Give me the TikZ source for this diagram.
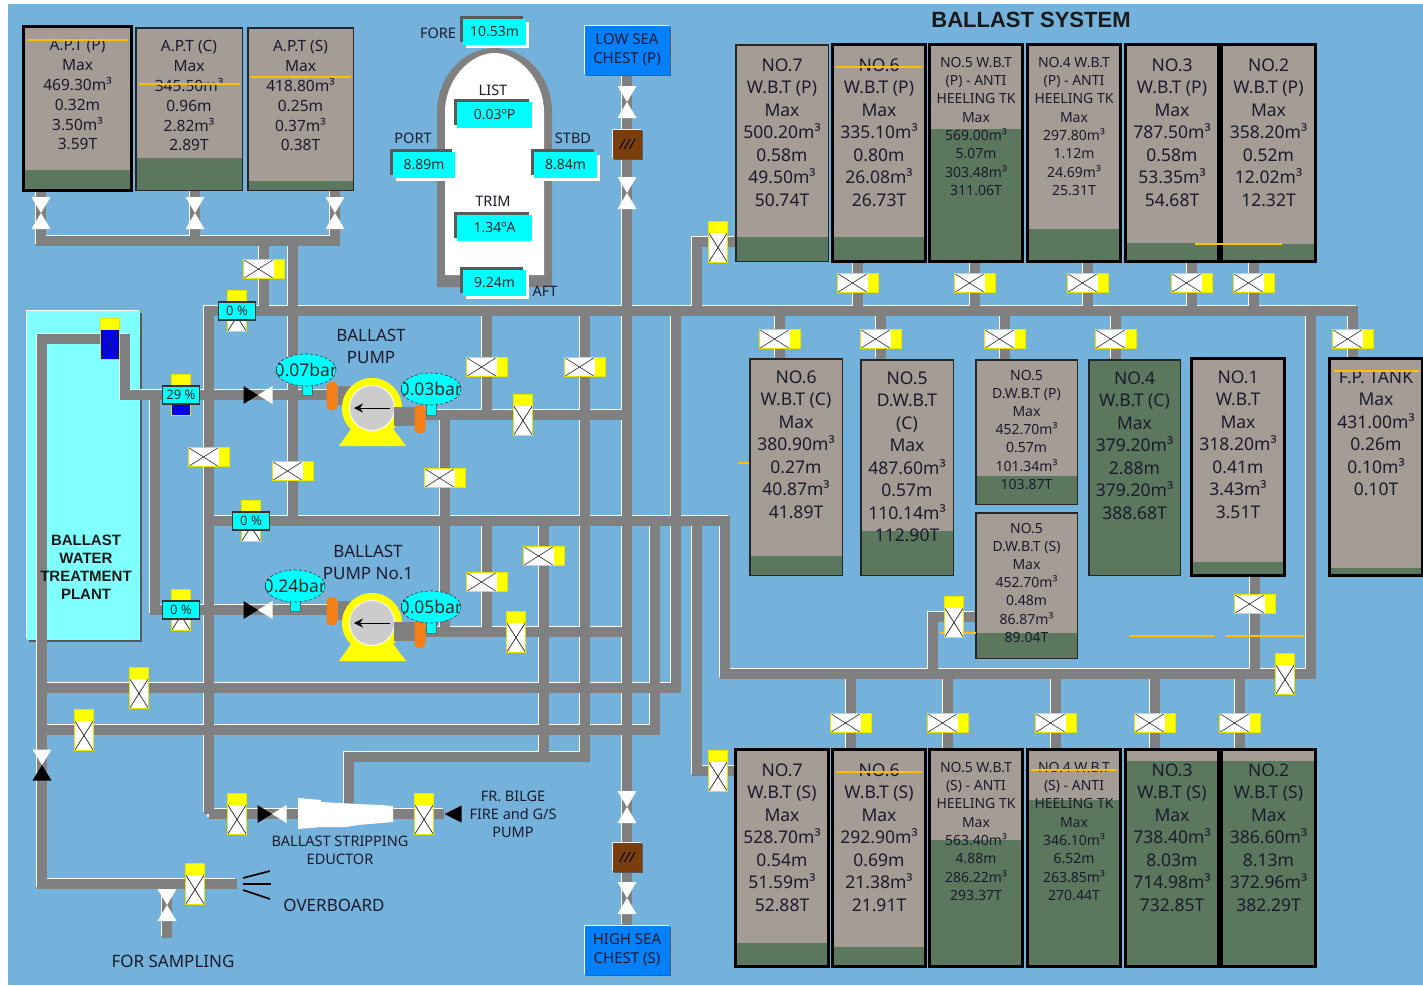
\documentclass[tikz,border=0pt]{standalone}
\usepackage{fontspec}
\setmainfont{Noto Sans}
\newfontfamily\headfont{Liberation Sans}
\usetikzlibrary{arrows.meta, shapes.geometric, shadows}
\pgfdeclarelayer{pipelayer}
\pgfsetlayers{pipelayer,main}

\definecolor{seablue}{HTML}{75B2DB}
\definecolor{pipegray}{HTML}{808080}
\definecolor{tankgray}{HTML}{A59C96}
\definecolor{tankgreen}{HTML}{5B775E}
\definecolor{levelline}{HTML}{FFC000}
\definecolor{plantcyan}{HTML}{80FFFF}
\definecolor{readout}{HTML}{00FFFF}
\definecolor{valveyellow}{HTML}{FFFF00}
\definecolor{valveblue}{HTML}{0000F0}
\definecolor{chestblue}{HTML}{0480FA}
\definecolor{strainerbrown}{HTML}{7A3E0C}
\definecolor{flangeorange}{HTML}{F57F17}
\definecolor{inktext}{HTML}{1B1B2E}

\newcommand{\ppb}{path picture bounding box}

\tikzset{
    tankbody/.style = {rectangle, inner sep=0pt, fill=tankgray},
    tankthin/.style = {draw=black!85, line width=1.4pt},
    tankthick/.style = {draw=black, line width=3pt},
    tanktext/.style = {anchor=north, inner sep=0pt, align=center, text=inktext},
    aptfont/.style = {font=\fontsize{15.5}{19.8}\selectfont, yshift=-10pt},
    bigfont/.style = {font=\fontsize{17.5}{22.5}\selectfont, yshift=-10.7pt},
    midfont/.style = {font=\fontsize{17.5}{22.5}\selectfont, yshift=-8.7pt},
    smallfont/.style = {font=\fontsize{14}{18.3}\selectfont, yshift=-9.5pt},
    dwfont/.style = {font=\fontsize{14}{18.2}\selectfont, yshift=-7.3pt},
    levelmark/.style = {draw=levelline, line width=1.8pt},
    label/.style = {inner sep=0pt, align=center, text=inktext, font=\fontsize{14.5}{18}\selectfont},
    biglabel/.style = {label, font=\fontsize{17}{22}\selectfont},
    hvalve/.style = {rectangle, inner sep=0pt, minimum width=41pt, minimum height=19pt, draw=valveyellow!90!black, fill=white, line width=0.7pt, path picture={
        \fill [valveyellow] ([xshift=-11pt]\ppb.north east) rectangle (\ppb.south east);
        \draw [black!75] (\ppb.north west) -- ([xshift=-11pt]\ppb.south east);
        \draw [black!75] ([xshift=-11pt]\ppb.north east) -- (\ppb.south west);}},
    vvalve/.style = {rectangle, inner sep=0pt, minimum width=19pt, minimum height=41pt, draw=valveyellow!90!black, fill=white, line width=0.7pt, path picture={
        \fill [valveyellow] (\ppb.north west) rectangle ([yshift=-11pt]\ppb.north east);
        \draw [black!85] ([yshift=-11pt]\ppb.north west) -- (\ppb.south east);
        \draw [black!85] ([yshift=-11pt]\ppb.north east) -- (\ppb.south west);}},
    percentbox/.style = {rectangle, inner sep=0pt, minimum width=37pt, minimum height=18pt, fill=readout, draw=black!80, line width=1.2pt, text=black!85, font=\fontsize{13}{15}\selectfont},
    bowv/.style = {rectangle, inner sep=0pt, minimum width=19pt, minimum height=32pt, path picture={
        \fill [white] (\ppb.north west) -- (\ppb.north east) -- (\ppb.south west) -- (\ppb.south east) -- cycle;}},
    bowvblack/.style = {rectangle, inner sep=0pt, minimum width=19pt, minimum height=31pt, path picture={
        \fill [white] (\ppb.north west) -- (\ppb.north east) -- (\ppb.center) -- cycle;
        \fill [black] (\ppb.south west) -- (\ppb.south east) -- (\ppb.center) -- cycle;}},
    checkh/.style = {rectangle, inner sep=0pt, minimum width=29pt, minimum height=18pt, path picture={
        \fill [black] (\ppb.north west) -- (\ppb.south west) -- (\ppb.center) -- cycle;
        \fill [white] (\ppb.north east) -- (\ppb.south east) -- (\ppb.center) -- cycle;}},
    tipleft/.style = {rectangle, inner sep=0pt, minimum width=17pt, minimum height=17pt, path picture={
        \fill [black] (\ppb.north east) -- (\ppb.south east) -- (\ppb.west) -- cycle;}},
    strainer/.style = {rectangle, inner sep=0pt, minimum width=29pt, minimum height=29pt, fill=strainerbrown, text=black, font=\fontsize{14}{14}\selectfont\itshape,
        general shadow={fill=black!65, shadow xshift=1.5pt, shadow yshift=-1.5pt},
        general shadow={fill=white!85!seablue, shadow xshift=-1pt, shadow yshift=1pt}},
    seachest/.style = {rectangle, inner sep=0pt, minimum width=85pt, minimum height=49pt, align=center, fill=chestblue, text=inktext, font=\fontsize{15}{19}\selectfont,
        general shadow={fill=black!65, shadow xshift=1.5pt, shadow yshift=-1.5pt},
        general shadow={fill=white, shadow xshift=-1pt, shadow yshift=1pt}},
    display/.style = {rectangle, inner sep=0pt, minimum height=26pt, fill=readout, text=black!85, font=\fontsize{14}{16}\selectfont,
        general shadow={fill=black!65, shadow xshift=-3pt, shadow yshift=3pt},
        general shadow={fill=white, shadow xshift=3pt, shadow yshift=-3pt}},
    gauge/.style = {ellipse, inner sep=0pt, minimum width=60pt, minimum height=32pt, draw=black!80, densely dashed, line width=0.6pt, fill=readout, text=black!85, path picture={
        \node [text=black!85, font=\fontsize{17.5}{20}\selectfont] at (\ppb.center) {#1};}},
    gaugestem/.style = {rectangle, inner sep=0pt, minimum width=10pt, minimum height=16pt, fill=readout, draw=black!60, line width=0.5pt},
    pipestub/.style = {rectangle, inner sep=0pt, fill=pipegray},
    flange/.style = {rectangle, rounded corners=4pt, inner sep=0pt, minimum width=11pt, minimum height=28pt, fill=flangeorange},
    sprayline/.style = {draw=black, line width=1.7pt},
}

% name, x1, y1, x2, y2, level, border, text style, text
\newcommand{\tank}[9]{
    \node (#1) [tankbody, minimum width={(#4-#2)*1pt}, minimum height={(#5-#3)*1pt}] at ({(#2+#4)/2},{(#3+#5)/2}) {};
    \fill [tankgreen] (#1.south west) rectangle (#4,#6);
    \node (#1text) [tanktext, #8] at (#1.north) {\strut #9};
    \draw [#7] (#1.south west) rectangle (#1.north east);
}

% name, y of the rotor centre
\newcommand{\pump}[2]{
    \fill [valveyellow] (339,#2+38) -- (356,#2+14) -- (388,#2+14) -- (406,#2+38) -- cycle;
    \node (#1suction) [pipestub, minimum width=24pt, minimum height=19pt] at (350,#2-13) {};
    \node (#1ring) [circle, inner sep=0pt, minimum size=60pt, fill=valveyellow] at (372,#2) {};
    \node (#1rotor) [circle, inner sep=0pt, minimum size=45pt, fill=black!20, draw=white, line width=1pt] at (372,#2) {};
    \draw [-{Stealth[length=9pt,width=9pt]}, thick, black, shorten <=5pt, shorten >=5pt] (#1rotor.east) -- (#1rotor.west);
    \node (#1discharge) [pipestub, minimum width=22pt, minimum height=19pt] at (405,#2+8) {};
    \node (#1in) [flange] at (332,#2-12) {};
    \node (#1out) [flange] at (420,#2+11) {};
}

\newcommand{\pipelist}{
    % after peak tanks
    \draw (bow_ap |- apt_p.south) -- (hdr_w) -- (hdr_e) -- (bow_as |- apt_s.south);
    \draw (bow_ac |- apt_c.south) -- (bow_ac |- hdr_w);
    \draw (v_hdr |- hdr_w) -- (v_hdr |- main_w);
    \draw (v_mid |- hdr_w) -- (v_mid |- mid_w);
    % main lines
    \draw (edu_w) -- (main_w) -- (main_e) -- (tk_fp.north -| main_e);
    \draw (mid_w) -- (mid_e) -- (low_w) -- (low_e) -- (low_e |- main_w);
    \draw (edu_w) -- (tip_in);
    \draw (edu_top) -- (strip_w) -- (strip_e) -- (v_r2 |- main_w);
    \draw (v_a2 |- mid_w) -- (v_a2 |- strip_w);
    % treatment plant and overboard
    \draw (spray) -- (ob_c) -- (bwt_top) -- (bwt_r) -- (in1_w) -- (in1_e);
    \draw (v_29 |- in1_e) ++(-26,0) -- (lo_c) -- (in2_e);
    \draw (v_samp |- ob_c) -- (samp_end);
    % pump lines
    \draw (out1_w) -- (out1_e);
    \draw (out2_w) -- (out2_e);
    \draw (v_c |- out1_w) -- (v_c |- out2_w);
    \draw (v_b |- main_w) -- (v_b |- out1_w);
    \draw (v_b2 |- mid_w) -- (v_b2 |- out2_w);
    % cross lines
    \draw (bwt_top |- rail1_e) -- (rail1_e) -- (rail1_e |- main_w);
    \draw (bwt_top |- rail2_e) -- (rail2_e) -- (rail2_e |- mid_w);
    \draw (tk_low.south) -- (tk_high.north);
    % side tanks
    \draw (tk_7p.west |- v_7p) -- (up7 |- v_7p) -- (up7 |- main_w);
    \draw (tk_7s.west |- v_7s) -- (dn7 |- v_7s) -- (dn7 |- mid_w);
    \draw (v_6p |- tk_6p.south) -- (v_6p |- main_w);
    \draw (v_5p |- tk_5p.south) -- (v_5p |- main_w);
    \draw (v_4p |- tk_4p.south) -- (v_4p |- main_w);
    \draw (v_3p |- tk_3p.south) -- (v_3p |- main_w);
    \draw (v_2p |- tk_2p.south) -- (v_2p |- main_w);
    \draw (v_6c |- main_w) -- (v_6c |- tk_6c.north);
    \draw (v_5c |- main_w) -- (v_5c |- tk_5c.north);
    \draw (v_5d |- main_w) -- (v_5d |- tk_5dp.north);
    \draw (v_4c |- main_w) -- (v_4c |- tk_4c.north);
    \draw (v_1 |- tk_1.south) -- (v_1 |- low_w);
    \draw (tk_5ds.west |- v_5ds) -- (dsx |- v_5ds) -- (dsx |- low_w);
    \draw (v_6s |- low_w) -- (v_6s |- tk_6s.north);
    \draw (v_5s |- low_w) -- (v_5s |- tk_5s.north);
    \draw (v_4s |- low_w) -- (v_4s |- tk_4s.north);
    \draw (v_3s |- low_w) -- (v_3s |- tk_3s.north);
    \draw (v_2s |- low_w) -- (v_2s |- tk_2s.north);
}

\begin{document}
\begin{tikzpicture} [x=1pt, y=-1pt]
    \useasboundingbox (0,0) rectangle (1423,985);

    \coordinate (hdr_w) at (41,241);
    \coordinate (hdr_e) at (335,241);
    \coordinate (main_w) at (209,311);
    \coordinate (main_e) at (1353,311);
    \coordinate (mid_w) at (209,521);
    \coordinate (mid_e) at (725,521);
    \coordinate (low_w) at (725,674);
    \coordinate (low_e) at (1311,674);
    \coordinate (edu_w) at (209,814);
    \coordinate (edu_top) at (349,814);
    \coordinate (strip_w) at (349,757);
    \coordinate (strip_e) at (585,757);
    \coordinate (bwt_top) at (42,339);
    \coordinate (bwt_r) at (125,339);
    \coordinate (in1_w) at (125,395);
    \coordinate (in1_e) at (330,395);
    \coordinate (lo_c) at (155,610);
    \coordinate (in2_e) at (330,610);
    \coordinate (ob_c) at (42,884);
    \coordinate (spray) at (237,884);
    \coordinate (samp_end) at (167,938);
    \coordinate (out1_w) at (420,415);
    \coordinate (out1_e) at (627,415);
    \coordinate (out2_w) at (420,632);
    \coordinate (out2_e) at (627,632);
    \coordinate (rail1_e) at (676,688);
    \coordinate (rail2_e) at (655,730);
    \coordinate (up7) at (697,243);
    \coordinate (dn7) at (697,771);
    \coordinate (dsx) at (933,617);

    \begin{pgfonlayer}{pipelayer}
        \fill [seablue] (8,4) rectangle (1423,985);
        \node (bwt) [rectangle, inner sep=0pt, minimum width=113pt, minimum height=329pt, fill=plantcyan,
            general shadow={fill=black!65, shadow xshift=2pt, shadow yshift=-2pt},
            general shadow={fill=white, shadow xshift=-1pt, shadow yshift=1pt}] at (83.5,475.5) {};
    \end{pgfonlayer}

    \node (title) [inner sep=0pt, font=\fontsize{22}{24}\selectfont\headfont\bfseries, text=black!90] at (1031,20) {BALLAST SYSTEM};

    % after peak tanks
    \tank{apt_p}{24}{27}{131}{190}{170}{tankthick}{aptfont}{A.P.T (P)\\Max\\469.30m³\\0.32m\\3.50m³\\3.59T}
    \tank{apt_c}{136}{28}{242}{190}{158}{tankthin}{aptfont}{A.P.T (C)\\Max\\345.50m³\\0.96m\\2.82m³\\2.89T}
    \tank{apt_s}{248}{28}{353}{190}{181}{tankthin}{aptfont}{A.P.T (S)\\Max\\418.80m³\\0.25m\\0.37m³\\0.38T}
    \draw [levelmark] (27,40) -- (128,40);
    \draw [levelmark] (139,84) -- (240,84);
    \draw [levelmark] (250,77) -- (351,77);

    % port side tanks
    \tank{tk_7p}{736}{45}{828}{261}{237}{tankthin}{bigfont}{NO.7\\W.B.T (P)\\Max\\500.20m³\\0.58m\\49.50m³\\50.74T}
    \tank{tk_6p}{833}{45}{925}{261}{237}{tankthick}{bigfont}{NO.6\\W.B.T (P)\\Max\\335.10m³\\0.80m\\26.08m³\\26.73T}
    \tank{tk_5p}{930}{45}{1022}{261}{129}{tankthick}{smallfont}{NO.5 W.B.T\\(P) - ANTI\\HEELING TK\\Max\\569.00m³\\5.07m\\303.48m³\\311.06T}
    \tank{tk_4p}{1028}{45}{1120}{261}{229}{tankthick}{smallfont}{NO.4 W.B.T\\(P) - ANTI\\HEELING TK\\Max\\297.80m³\\1.12m\\24.69m³\\25.31T}
    \tank{tk_3p}{1126}{45}{1218}{261}{243}{tankthick}{bigfont}{NO.3\\W.B.T (P)\\Max\\787.50m³\\0.58m\\53.35m³\\54.68T}
    \tank{tk_2p}{1222}{45}{1315}{261}{244}{tankthick}{bigfont}{NO.2\\W.B.T (P)\\Max\\358.20m³\\0.52m\\12.02m³\\12.32T}
    \draw [levelmark] (836,67) -- (922,67);
    \draw [levelmark] (1195,244) -- (1282,244);

    % centre tanks
    \tank{tk_6c}{750}{359}{842}{575}{556}{tankthin}{midfont}{NO.6\\W.B.T (C)\\Max\\380.90m³\\0.27m\\40.87m³\\41.89T}
    \tank{tk_5c}{861}{360}{953}{575}{531}{tankthin}{midfont}{NO.5\\D.W.B.T\\(C)\\Max\\487.60m³\\0.57m\\110.14m³\\112.90T}
    \tank{tk_5dp}{976}{360}{1077}{504}{476}{tankthin}{dwfont}{NO.5\\D.W.B.T (P)\\Max\\452.70m³\\0.57m\\101.34m³\\103.87T}
    \tank{tk_5ds}{976}{513}{1077}{658}{633}{tankthin}{dwfont}{NO.5\\D.W.B.T (S)\\Max\\452.70m³\\0.48m\\86.87m³\\89.04T}
    \tank{tk_4c}{1089}{360}{1180}{575}{360}{tankthin}{midfont}{NO.4\\W.B.T (C)\\Max\\379.20m³\\2.88m\\379.20m³\\388.68T}
    \tank{tk_1}{1192}{359}{1284}{575}{562}{tankthick}{midfont}{NO.1\\W.B.T\\Max\\318.20m³\\0.41m\\3.43m³\\3.51T}
    \tank{tk_fp}{1330}{359}{1422}{575}{568}{tankthick}{midfont}{F.P. TANK\\Max\\431.00m³\\0.26m\\0.10m³\\0.10T}
    \draw [levelmark] (738,463) -- (749,463);
    \draw [levelmark] (1334,371) -- (1419,371);
    \draw [levelmark] (940,633) -- (976,633);
    \draw [levelmark] (1129,636) -- (1215,636);
    \draw [levelmark] (1226,636) -- (1304,636);

    % starboard tanks
    \tank{tk_7s}{736}{750}{828}{966}{943}{tankthick}{bigfont}{NO.7\\W.B.T (S)\\Max\\528.70m³\\0.54m\\51.59m³\\52.88T}
    \tank{tk_6s}{833}{750}{925}{966}{947}{tankthick}{bigfont}{NO.6\\W.B.T (S)\\Max\\292.90m³\\0.69m\\21.38m³\\21.91T}
    \tank{tk_5s}{930}{750}{1022}{966}{840}{tankthick}{smallfont}{NO.5 W.B.T\\(S) - ANTI\\HEELING TK\\Max\\563.40m³\\4.88m\\286.22m³\\293.37T}
    \tank{tk_4s}{1028}{750}{1120}{966}{800}{tankthick}{smallfont}{NO.4 W.B.T\\(S) - ANTI\\HEELING TK\\Max\\346.10m³\\6.52m\\263.85m³\\270.44T}
    \tank{tk_3s}{1126}{750}{1218}{966}{761}{tankthick}{bigfont}{NO.3\\W.B.T (S)\\Max\\738.40m³\\8.03m\\714.98m³\\732.85T}
    \tank{tk_2s}{1222}{750}{1315}{966}{761}{tankthick}{bigfont}{NO.2\\W.B.T (S)\\Max\\386.60m³\\8.13m\\372.96m³\\382.29T}
    \draw [levelmark] (836,772) -- (922,772);
    \draw [levelmark] (1031,770) -- (1117,770);

    % hull and draft readings
    \fill [pipegray] (437,287) -- (437,112) .. controls (437,75) and (465,48) .. (494.5,48) .. controls (524,48) and (552,75) .. (552,112) -- (552,287) -- cycle;
    \fill [white] (445,275) -- (445,112) .. controls (445,80) and (470,53) .. (494.5,53) .. controls (519,53) and (544,80) .. (544,112) -- (544,275) -- cycle;
    \node (d_fore) [display, minimum width=63pt] at (494.5,32) {10.53m};
    \node (d_list) [display, minimum width=75pt] at (494.5,115) {0.03ºP};
    \node (d_port) [display, minimum width=62pt] at (424,165) {8.89m};
    \node (d_stbd) [display, minimum width=63pt] at (565.5,165) {8.84m};
    \node (d_trim) [display, minimum width=75pt] at (494.5,228) {1.34ºA};
    \node (d_aft) [display, minimum width=63pt] at (494.5,283) {9.24m};
    \node (l_fore) [label] at (438,33) {FORE};
    \node (l_list) [label] at (493,90) {LIST};
    \node (l_port) [label] at (413,138) {PORT};
    \node (l_stbd) [label] at (573,138) {STBD};
    \node (l_trim) [label] at (493,201) {TRIM};
    \node (l_aft) [label] at (545,291) {AFT};

    % sea chests
    \node (tk_low) [seachest] at (627,50) {LOW SEA\\CHEST (P)};
    \node (tk_high) [seachest] at (627,950) {HIGH SEA\\CHEST (S)};
    \node (bow_lo1) [bowv] at (627,102) {};
    \node (str_lo) [strainer] at (627,144) {///};
    \node (bow_lo2) [bowv] at (627,193) {};
    \node (bow_hi1) [bowv] at (627,807) {};
    \node (str_hi) [strainer] at (627,857) {///};
    \node (bow_hi2) [bowv] at (627,898) {};

    \node (bow_ap) [bowv] at (41,213) {};
    \node (bow_ac) [bowv] at (195,213) {};
    \node (bow_as) [bowv] at (335,213) {};

    % plant
    \node (l_bwt) [inner sep=0pt, align=center, text=black!90, font=\fontsize{15}{18}\selectfont\headfont\bfseries] at (86,567) {BALLAST\\WATER\\TREATMENT\\PLANT};
    \node (v_bwt) [vvalve, fill=valveblue] at (110,339) {};
    \node (v_29) [vvalve, fill=valveblue] at (181,395) {};
    \node (p_29) [percentbox] at (v_29) {29 \%};
    \node (v_low) [vvalve] at (181,610) {};
    \node (p_low) [percentbox] at (v_low) {0 \%};
    \node (v_main) [vvalve] at (237,311) {};
    \node (p_main) [percentbox] at (v_main) {0 \%};
    \node (v_m) [vvalve] at (251,521) {};
    \node (p_m) [percentbox] at (v_m) {0 \%};

    % valves on the pump lines
    \node (v_hdr) [hvalve] at (264,269) {};
    \node (v_left) [hvalve] at (209,457) {};
    \node (v_mid) [hvalve] at (293,471) {};
    \node (v_c) [hvalve] at (445,478) {};
    \node (v_b) [hvalve] at (487,367) {};
    \node (v_b2) [hvalve] at (487,582) {};
    \node (v_a2) [hvalve] at (544,556) {};
    \node (v_r2) [hvalve] at (585,367) {};
    \node (v_o1) [vvalve] at (523,415) {};
    \node (v_o2) [vvalve] at (516,632) {};
    \node (chk1) [checkh] at (258,395) {};
    \node (chk2) [checkh] at (258,610) {};

    % pumps
    \pump{pa}{408}
    \pump{pb}{623}
    \node (g_a1s) [gaugestem] at (307,387) {};
    \node (g_a1) [gauge=0.07bar] at (306,370) {};
    \node (g_a2s) [gaugestem] at (431,407) {};
    \node (g_a2) [gauge=0.03bar] at (431,389) {};
    \node (g_b1s) [gaugestem] at (295,603) {};
    \node (g_b1) [gauge=0.24bar] at (295,586) {};
    \node (g_b2s) [gaugestem] at (431,625) {};
    \node (g_b2) [gauge=0.05bar] at (431,607) {};
    \node (l_pa) [biglabel] at (371,346) {BALLAST\\PUMP};
    \node (l_pb) [biglabel] at (368,562) {BALLAST\\PUMP No.1};

    % eductor
    \node (v_edl) [vvalve] at (237,814) {};
    \node (chk3) [checkh] at (272,814) {};
    \node (v_edr) [vvalve] at (424,814) {};
    \node (tip_in) [tipleft] at (453,814) {};
    \fill [white] (298,798) -- (321,800) -- (321,802) -- (358,804) -- (380,805) -- (393,806) -- (393,822) -- (358,825) -- (346,827) -- (321,827) -- (298,829) -- cycle;
    \node (l_edu) [label] at (340,850) {BALLAST STRIPPING\\EDUCTOR};
    \node (l_fr) [label] at (513,814) {FR. BILGE\\FIRE and G/S\\PUMP};

    % rails
    \node (v_r1) [vvalve] at (139,688) {};
    \node (v_rl2) [vvalve] at (84,730) {};
    \node (bow_in) [bowvblack] at (42,765) {};

    % overboard
    \node (v_ob) [vvalve] at (195,884) {};
    \node (v_samp) [bowv] at (167,905) {};
    \draw [sprayline] ([shift={(6,-6)}]spray) -- ++(27,-7);
    \draw [sprayline] ([shift={(6,0)}]spray) -- ++(28,0);
    \draw [sprayline] ([shift={(6,6)}]spray) -- ++(27,9);
    \node (l_ob) [biglabel] at (334,905) {OVERBOARD};
    \node (l_samp) [biglabel] at (173,961) {FOR SAMPLING};

    % tank valves
    \node (v_7p) [vvalve] at (718,242) {};
    \node (v_6p) [hvalve] at (858,283) {};
    \node (v_5p) [hvalve] at (975,283) {};
    \node (v_4p) [hvalve] at (1088,283) {};
    \node (v_3p) [hvalve] at (1192,283) {};
    \node (v_2p) [hvalve] at (1254,283) {};
    \node (v_6c) [hvalve] at (780,339) {};
    \node (v_5c) [hvalve] at (881,339) {};
    \node (v_5d) [hvalve] at (1005,339) {};
    \node (v_4c) [hvalve] at (1116,339) {};
    \node (v_fp) [hvalve] at (1353,339) {};
    \node (v_1) [hvalve] at (1255,604) {};
    \node (v_5ds) [vvalve] at (954,617) {};
    \node (v_lowr) [vvalve] at (1285,674) {};
    \node (v_7s) [vvalve] at (718,771) {};
    \node (v_6s) [hvalve] at (851,723) {};
    \node (v_5s) [hvalve] at (948,723) {};
    \node (v_4s) [hvalve] at (1056,723) {};
    \node (v_3s) [hvalve] at (1155,723) {};
    \node (v_2s) [hvalve] at (1240,723) {};

    \begin{pgfonlayer}{pipelayer}
        \begin{scope} [transform canvas={shift={(-1.6pt,1.6pt)}}, color=white, line width=9.5pt]
            \pipelist
        \end{scope}
        \begin{scope} [color=pipegray, line width=9.5pt]
            \pipelist
        \end{scope}
    \end{pgfonlayer}
\end{tikzpicture}
\end{document}
